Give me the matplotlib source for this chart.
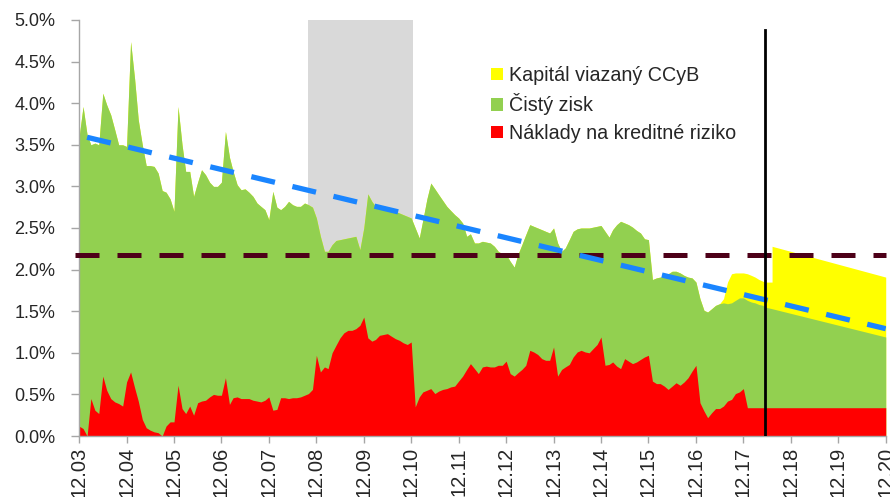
import numpy as np
import pandas as pd
import matplotlib
matplotlib.use('Agg')
import matplotlib.pyplot as plt
from matplotlib import font_manager
from matplotlib.patches import Patch

# mesačné údaje od 12/2003 (v % aktív)
hist_start = '2003-12-01'

# náklady na kreditné riziko (červená vrstva)
credit_costs = [
    0.12, 0.09, 0.00, 0.45, 0.31, 0.27, 0.72, 0.55, 0.45, 0.41, 0.39, 0.36,
    0.65, 0.77, 0.58, 0.42, 0.20, 0.10, 0.07, 0.05, 0.04, 0.00, 0.12, 0.17,
    0.17, 0.61, 0.33, 0.27, 0.36, 0.25, 0.40, 0.42, 0.43, 0.47, 0.50, 0.49,
    0.49, 0.70, 0.38, 0.46, 0.47, 0.45, 0.45, 0.45, 0.43, 0.42, 0.41, 0.43,
    0.47, 0.31, 0.32, 0.46, 0.46, 0.45, 0.46, 0.46, 0.47, 0.49, 0.51, 0.56,
    0.97, 0.77, 0.83, 0.81, 1.00, 1.09, 1.18, 1.24, 1.27, 1.27, 1.29, 1.33,
    1.43, 1.18, 1.14, 1.16, 1.21, 1.22, 1.23, 1.20, 1.17, 1.15, 1.12, 1.10,
    1.13, 0.35, 0.47, 0.53, 0.55, 0.57, 0.51, 0.54, 0.56, 0.57, 0.59, 0.60,
    0.66, 0.72, 0.80, 0.87, 0.81, 0.75, 0.83, 0.84, 0.83, 0.83, 0.85, 0.85,
    0.90, 0.75, 0.72, 0.76, 0.80, 0.85, 1.03, 1.01, 0.98, 0.93, 0.91, 0.91,
    1.07, 0.72, 0.80, 0.83, 0.86, 0.95, 1.01, 1.03, 1.01, 1.00, 1.05, 1.10,
    1.19, 0.85, 0.86, 0.89, 0.84, 0.81, 0.93, 0.90, 0.87, 0.89, 0.92, 0.95,
    0.97, 0.66, 0.63, 0.63, 0.60, 0.56, 0.60, 0.64, 0.61, 0.65, 0.70, 0.78,
    0.85, 0.40, 0.30, 0.22, 0.28, 0.33, 0.33, 0.36, 0.42, 0.44, 0.51, 0.53,
    0.57, 0.34, 0.34, 0.34, 0.34, 0.34,
]

# čistý zisk + náklady na kreditné riziko (horná hrana zelenej vrstvy)
profit_before_costs = [
    3.59, 3.96, 3.62, 3.50, 3.52, 3.50, 4.12, 3.98, 3.86, 3.68, 3.50, 3.50,
    3.48, 4.74, 4.29, 3.80, 3.50, 3.25, 3.25, 3.24, 3.16, 2.95, 2.93, 2.85,
    2.70, 3.96, 3.50, 3.18, 3.18, 2.88, 3.05, 3.20, 3.14, 3.05, 3.00, 3.00,
    3.05, 3.66, 3.35, 3.18, 3.02, 2.96, 2.97, 2.93, 2.88, 2.80, 2.76, 2.72,
    2.60, 2.94, 2.75, 2.72, 2.76, 2.82, 2.78, 2.76, 2.76, 2.80, 2.78, 2.75,
    2.62, 2.40, 2.22, 2.22, 2.30, 2.35, 2.36, 2.37, 2.38, 2.39, 2.40, 2.24,
    2.50, 2.91, 2.82, 2.76, 2.77, 2.77, 2.74, 2.71, 2.70, 2.68, 2.66, 2.64,
    2.62, 2.50, 2.38, 2.60, 2.85, 3.04, 2.97, 2.90, 2.83, 2.76, 2.71, 2.66,
    2.62, 2.56, 2.40, 2.43, 2.32, 2.32, 2.34, 2.33, 2.32, 2.28, 2.22, 2.19,
    2.18, 2.10, 2.03, 2.18, 2.30, 2.42, 2.54, 2.52, 2.50, 2.48, 2.46, 2.44,
    2.50, 2.32, 2.22, 2.26, 2.36, 2.46, 2.49, 2.50, 2.50, 2.50, 2.51, 2.52,
    2.53, 2.46, 2.39, 2.48, 2.54, 2.58, 2.56, 2.54, 2.51, 2.47, 2.44, 2.37,
    2.36, 1.88, 1.90, 1.91, 1.92, 1.95, 1.98, 1.98, 1.96, 1.93, 1.91, 1.90,
    1.85, 1.65, 1.51, 1.49, 1.53, 1.57, 1.59, 1.60, 1.59, 1.60, 1.63, 1.66,
    1.66, 1.63, 1.61, 1.60, 1.58, 1.57,
]

# kapitál viazaný CCyB (od 7/2017)
ccyb_start = '2017-07-01'
ccyb_hist = [0.05, 0.26, 0.35, 0.33, 0.30, 0.30, 0.32, 0.32, 0.31, 0.30, 0.29]

# projekcia
proj_dates = ['2018-05-16', '2018-07-10', '2018-07-10', '2020-12-01']
proj_costs = [0.34, 0.34, 0.34, 0.34]
proj_profit_top = [1.55, 1.53, 1.53, 1.19]
proj_ccyb = [0.30, 0.32, 0.75, 0.72]

# trend, hranica, kríza, zlom
trend_dates = ['2004-02-01', '2020-12-01']
trend_values = [3.59, 1.29]
threshold = 2.175
crisis_span = ['2008-09-28', '2010-12-15']
split_date = '2018-05-16'
split_top = 4.88

tick_dates = pd.date_range('2003-12-01', '2020-12-01', freq='12MS')
tick_labels = ['12.03', '12.04', '12.05', '12.06', '12.07', '12.08', '12.09',
               '12.10', '12.11', '12.12', '12.13', '12.14', '12.15', '12.16',
               '12.17', '12.18', '12.19', '12.20']
y_ticks = [0.0, 0.5, 1.0, 1.5, 2.0, 2.5, 3.0, 3.5, 4.0, 4.5, 5.0]

names = {f.name for f in font_manager.fontManager.ttflist}
font = 'Liberation Sans Narrow' if 'Liberation Sans Narrow' in names else 'Liberation Sans'
plt.rcParams['font.family'] = [font, 'DejaVu Sans']

# poskladanie radov
hist_dates = pd.date_range(hist_start, periods=len(credit_costs), freq='MS')
ccyb_full = np.zeros(len(credit_costs))
i0 = hist_dates.get_loc(pd.Timestamp(ccyb_start))
ccyb_full[i0:i0 + len(ccyb_hist)] = ccyb_hist

dates = hist_dates.append(pd.to_datetime(proj_dates))
costs = np.concatenate([credit_costs, proj_costs])
top = np.concatenate([profit_before_costs, proj_profit_top])
ccyb = np.concatenate([ccyb_full, proj_ccyb])

fig = plt.figure(figsize=(8.9, 4.97), dpi=100)
ax = fig.add_axes([0.0888, 0.1227, 0.9064, 0.8371])

ax.axvspan(pd.Timestamp(crisis_span[0]), pd.Timestamp(crisis_span[1]),
           color='#d9d9d9', lw=0, zorder=0)
ax.fill_between(dates, 0, top + ccyb, color='#ffff00', lw=0, zorder=1)
ax.fill_between(dates, 0, top, color='#92d050', lw=0, zorder=1)
ax.fill_between(dates, 0, costs, color='#ff0000', lw=0, zorder=1)

ax.plot(pd.to_datetime(['2003-11-01', '2020-12-01']), [threshold, threshold],
        color='#4d0018', lw=3.6, dashes=(4.8, 3.6), zorder=3, clip_on=False)
ax.plot(pd.to_datetime(trend_dates), trend_values, color='#1a85ff', lw=3.8,
        dashes=(4.6, 3.4), zorder=4)
ax.plot(pd.to_datetime([split_date, split_date]), [0, split_top],
        color='black', lw=2.0, zorder=5)

ax.set_xlim(pd.Timestamp('2003-12-01'), pd.Timestamp('2020-12-01'))
ax.set_ylim(0, 5.0)
ax.set_xticks(tick_dates)
ax.set_xticklabels(tick_labels, rotation=90)
ax.set_yticks(y_ticks)
ax.set_yticklabels([f'{v:.1f}%' for v in y_ticks])

for s in ['top', 'right']:
    ax.spines[s].set_visible(False)
for s in ['left', 'bottom']:
    ax.spines[s].set_color('#a6a6a6')
    ax.spines[s].set_linewidth(1.0)
ax.tick_params(axis='y', length=6, width=1, color='#a6a6a6', pad=11,
               labelsize=13, labelcolor='#262626')
ax.tick_params(axis='x', length=5, width=1, color='#a6a6a6', pad=3,
               labelsize=14.5, labelcolor='#262626')

handles = [Patch(facecolor='#ffff00'), Patch(facecolor='#92d050'),
           Patch(facecolor='#ff0000')]
labels = ['Kapitál viazaný CCyB', 'Čistý zisk', 'Náklady na kreditné riziko']
ax.legend(handles, labels, loc='upper left', frameon=False,
          bbox_to_anchor=(491 / 890, 1 - 66 / 497), bbox_transform=fig.transFigure,
          borderpad=0, borderaxespad=0, handlelength=0.62, handleheight=0.62,
          handletextpad=0.3, labelspacing=0.43, fontsize=14.2,
          labelcolor='#262626')

fig.savefig('out.png', dpi=100)
